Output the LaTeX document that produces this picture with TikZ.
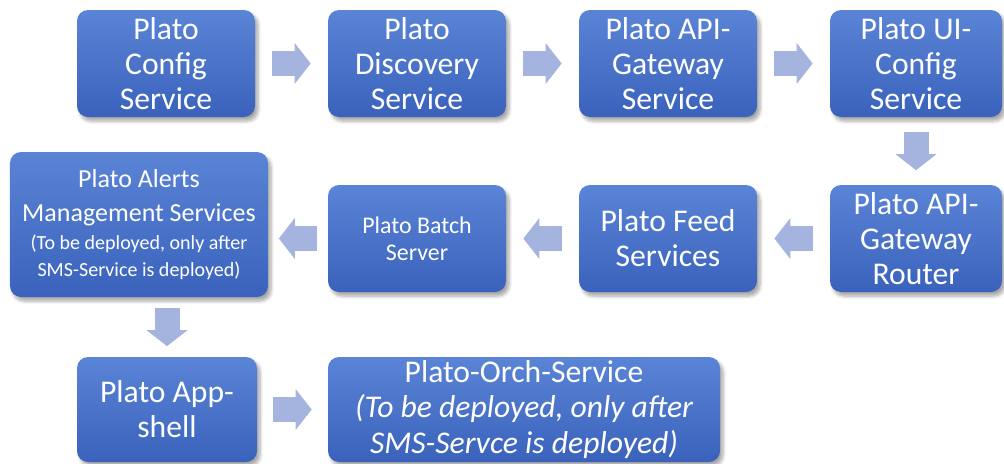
\documentclass[tikz,border=0pt]{standalone}
\usepackage{fontspec}
\setmainfont{Carlito}
\usetikzlibrary{arrows.meta,shadows.blur}

\definecolor{boxtop}{RGB}{90,132,214}
\definecolor{boxbottom}{RGB}{58,98,188}
\definecolor{arrowblue}{RGB}{164,180,222}

\tikzset{
    stepbox/.style={draw=none, rounded corners=0.22cm, top color=boxtop, bottom color=boxbottom,
        text=white, align=center, inner sep=0pt, minimum height=2.14cm, minimum width=#1,
        font=\fontsize{18}{20}\selectfont,
        blur shadow={shadow xshift=0.6mm, shadow yshift=-0.8mm, shadow opacity=35, shadow blur steps=6}},
    stepbox/.default=3.56cm,
    flow/.style={draw=arrowblue, line width=0.5cm,
        -{Triangle[width=0.82cm, length=0.32cm, line width=0pt]},
        shorten <=#1, shorten >=#1},
    flow/.default=0.34cm
}

\begin{document}
\begin{tikzpicture}
    \useasboundingbox (0,0) rectangle (20.08,-9.26);

    % first row
    \node[stepbox] (cfg) at (3.32,-1.27) {Plato\\Config\\Service};
    \node[stepbox] (disc) at (8.34,-1.27) {Plato\\Discovery\\Service};
    \node[stepbox] (apigw) at (13.36,-1.27) {Plato API-\\Gateway\\Service};
    \node[stepbox=3.44cm] (uicfg) at (18.32,-1.27) {Plato UI-\\Config\\Service};

    % second row
    \node[stepbox=3.44cm] (router) at (18.32,-4.77) {Plato API-\\Gateway\\Router};
    \node[stepbox] (feed) at (13.36,-4.77) {Plato Feed\\Services};
    \node[stepbox, font=\fontsize{13.6}{15.4}\selectfont] (batch) at (8.34,-4.77) {Plato Batch\\Server};
    \node[stepbox=5.16cm, minimum height=2.9cm, font=\fontsize{14.8}{19.3}\selectfont] (alerts) at (2.78,-4.49)
        {Plato Alerts\\Management Services\\[-3pt]
        {\fontsize{11.4}{14.2}\selectfont (To be deployed, only after}\\[-4pt]
        {\fontsize{11.4}{14.2}\selectfont SMS-Service is deployed)}};

    % third row
    \node[stepbox=3.6cm, minimum height=2.1cm] (appshell) at (3.34,-8.19) {Plato App-\\shell};
    \node[stepbox=7.84cm, minimum height=2.1cm] (orch) at (10.48,-8.19)
        {Plato-Orch-Service\\\itshape(To be deployed, only after\\\itshape SMS-Servce is deployed)};

    \draw[flow] (cfg) -- (disc);
    \draw[flow] (disc) -- (apigw);
    \draw[flow] (apigw) -- (uicfg);
    \draw[flow=0.29cm] (uicfg) -- (router);
    \draw[flow] (router) -- (feed);
    \draw[flow] (feed) -- (batch);
    \draw[flow=0.21cm] (batch) -- (batch -| alerts.east);
    \draw[flow=0.21cm] (appshell.north |- alerts.south) -- (appshell.north);
    \draw[flow=0.32cm] (appshell) -- (orch);
\end{tikzpicture}
\end{document}
